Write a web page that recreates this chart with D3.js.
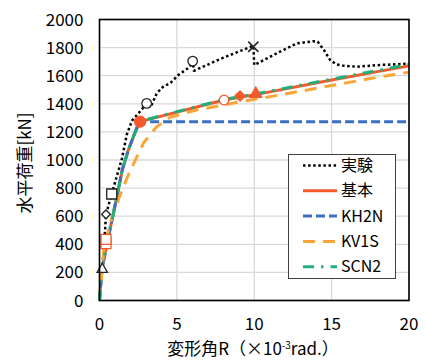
<!DOCTYPE html>
<html>
<head>
<meta charset="utf-8">
<script src="https://cdn.jsdelivr.net/npm/d3@7"></script>
<style>
    body { margin: 0; background: #fff; }
</style>
</head>
<body>
<load-chart></load-chart>
<script>
// ---- data (R in 10^-3 rad, P in kN) ----
const xTicks = [0, 5, 10, 15, 20];
const yTicks = [0, 200, 400, 600, 800, 1000, 1200, 1400, 1600, 1800, 2000];

const legendNames = ['実験', '基本', 'KH2N', 'KV1S', 'SCN2'];

const expR = [0, 0.18, 0.36, 0.42, 0.79, 1.11, 1.45, 1.76, 2.1, 2.5, 2.8, 3.05, 3.3, 3.7, 4.1, 4.6, 5.1, 5.85, 6.02, 6.1, 8.0, 9.94, 10.0, 11.45, 12.75, 13.8, 14.1, 14.5, 14.9, 15.3, 15.7, 16.6, 18.1, 20];
const expP = [0, 222, 502, 613, 758, 881, 1010, 1180, 1280, 1330, 1370, 1403, 1375, 1475, 1520, 1550, 1605, 1664, 1704, 1635, 1728, 1813, 1676, 1759, 1830, 1845, 1842, 1783, 1712, 1681, 1672, 1664, 1676, 1686];

const baseR = [0, 0.15, 0.55, 1.05, 1.47, 1.86, 2.19, 2.62, 8.05, 10.16, 15, 20];
const baseP = [0, 220, 440, 700, 929, 1070, 1166, 1273, 1427, 1467, 1570, 1670];

const kh2nR = [0, 0.15, 0.55, 1.05, 1.47, 1.86, 2.19, 2.55, 20];
const kh2nP = [0, 220, 440, 700, 929, 1070, 1166, 1273, 1273];

const kv1sR = [0, 0.3, 0.79, 1.33, 1.86, 2.83, 3.7, 4.56, 6.28, 8.0, 9.5, 12, 15, 17.5, 20];
const kv1sP = [0, 390, 585, 751, 893, 1119, 1237, 1304, 1356, 1391, 1422, 1470, 1530, 1580, 1625];

const scn2R = [0, 0.15, 0.55, 1.05, 1.47, 1.86, 2.19, 2.62, 8.05, 10.16, 15, 20];
const scn2P = [0, 220, 440, 700, 929, 1070, 1166, 1276, 1431, 1472, 1575, 1680];

// event markers
const expMarkR = [0.18, 0.42, 0.79, 3.05, 6.02, 9.94];
const expMarkP = [222, 613, 758, 1403, 1704, 1806];
const expMarkType = ['triangle', 'diamond', 'square', 'circle', 'circle', 'x'];

const baseMarkR = [0.42, 0.42, 2.62, 8.05, 9.08, 10.1];
const baseMarkP = [405, 435, 1273, 1427, 1455, 1470];
const baseMarkType = ['square', 'square', 'dot', 'circle', 'fdiamond', 'ftriangle'];

class LoadChart extends HTMLElement {
    constructor() {
        super();

        this.width = 425;
        this.height = 361;
        this.marginTop = 19.5;
        this.marginRight = 16;
        this.marginBottom = 60.5;
        this.marginLeft = 99.5;

        this.font = '"Noto Sans CJK JP", "Noto Sans", sans-serif';

        this.svg = d3.select(this)
            .append('svg')
            .attr('width', this.width)
            .attr('height', this.height)
            .style('display', 'block')
            .style('font-family', this.font);

        this.styles = [
            { color: '#000000', width: 2.5, dash: '2.5,2.6' },
            { color: '#f25a2c', width: 3, dash: null },
            { color: '#3a6fc1', width: 3, dash: '9,4' },
            { color: '#fba536', width: 3, dash: '12,8' },
            { color: '#20b07c', width: 3, dash: '11,7,2.5,7' }
        ];
    }
    //----------------------------------------------------------------------------
    connectedCallback() {
        this.#scaling();
        this.#drawGrid();
        this.#drawLines();
        this.#drawMarkers();
        this.#drawAxis();
        this.#drawLegend();
    }
    //----------------------------------------------------------------------------
    #scaling() {
        this.xScale = d3.scaleLinear()
            .domain([0, 20])
            .range([this.marginLeft, this.width - this.marginRight]);

        this.yScale = d3.scaleLinear()
            .domain([0, 2000])
            .range([this.height - this.marginBottom, this.marginTop]);
    }
    //----------------------------------------------------------------------------
    #drawGrid() {
        const g = this.svg.append('g');

        g.selectAll('.hgrid')
            .data(yTicks)
            .join('line')
            .attr('x1', this.xScale(0))
            .attr('x2', this.xScale(20))
            .attr('y1', d => this.yScale(d))
            .attr('y2', d => this.yScale(d))
            .attr('stroke', '#d9d9d9')
            .attr('stroke-width', 1.3);

        g.selectAll('.vgrid')
            .data(xTicks)
            .join('line')
            .attr('y1', this.yScale(0))
            .attr('y2', this.yScale(2000))
            .attr('x1', d => this.xScale(d))
            .attr('x2', d => this.xScale(d))
            .attr('stroke', '#d9d9d9')
            .attr('stroke-width', 1.3);
    }
    //----------------------------------------------------------------------------
    #drawLines() {
        const line = d3.line()
            .x(d => this.xScale(d[0]))
            .y(d => this.yScale(d[1]));

        const series = [
            d3.zip(expR, expP),
            d3.zip(baseR, baseP),
            d3.zip(kh2nR, kh2nP),
            d3.zip(kv1sR, kv1sP),
            d3.zip(scn2R, scn2P)
        ];

        series.forEach((data, i) => {
            const s = this.styles[i];
            this.svg.append('path')
                .attr('d', line(data))
                .attr('fill', 'none')
                .attr('stroke', s.color)
                .attr('stroke-width', s.width)
                .attr('stroke-dasharray', s.dash)
                .attr('stroke-linejoin', 'round');
        });
    }
    //----------------------------------------------------------------------------
    #marker(g, type, x, y, color) {
        const sym = d3.symbol();
        let fill = '#fff';
        let rotate = 0;

        if (type === 'triangle') sym.type(d3.symbolTriangle).size(48);
        if (type === 'ftriangle') { sym.type(d3.symbolTriangle).size(60); fill = color; }
        if (type === 'diamond') { sym.type(d3.symbolSquare).size(38); rotate = 45; }
        if (type === 'fdiamond') { sym.type(d3.symbolSquare).size(52); rotate = 45; fill = color; }
        if (type === 'square') sym.type(d3.symbolSquare).size(100);
        if (type === 'circle') sym.type(d3.symbolCircle).size(72);
        if (type === 'dot') { sym.type(d3.symbolCircle).size(95); fill = color; }
        if (type === 'x') { sym.type(d3.symbolX).size(70); fill = 'none'; }

        g.append('path')
            .attr('d', sym())
            .attr('transform', `translate(${x},${y}) rotate(${rotate})`)
            .attr('fill', fill)
            .attr('stroke', color)
            .attr('stroke-width', type === 'x' ? 1.5 : 1.3);
    }
    //----------------------------------------------------------------------------
    #drawMarkers() {
        const g = this.svg.append('g');

        expMarkR.forEach((r, i) => {
            this.#marker(g, expMarkType[i], this.xScale(r), this.yScale(expMarkP[i]), '#222');
        });

        baseMarkR.forEach((r, i) => {
            this.#marker(g, baseMarkType[i], this.xScale(r), this.yScale(baseMarkP[i]), '#f25a2c');
        });
    }
    //----------------------------------------------------------------------------
    #drawAxis() {
        // frame
        this.svg.append('rect')
            .attr('x', this.xScale(0))
            .attr('y', this.yScale(2000))
            .attr('width', this.xScale(20) - this.xScale(0))
            .attr('height', this.yScale(0) - this.yScale(2000))
            .attr('fill', 'none')
            .attr('stroke', '#000')
            .attr('stroke-width', 1.6);

        // Y tick labels
        this.svg.append('g')
            .selectAll('text')
            .data(yTicks)
            .join('text')
            .attr('x', this.marginLeft - 16)
            .attr('y', d => this.yScale(d) + 6)
            .attr('text-anchor', 'end')
            .attr('font-size', 17)
            .text(d => d);

        // X tick labels
        this.svg.append('g')
            .selectAll('text')
            .data(xTicks)
            .join('text')
            .attr('x', d => this.xScale(d))
            .attr('y', 330)
            .attr('text-anchor', 'middle')
            .attr('font-size', 17)
            .text(d => d);

        // X axis title
        const xt = this.svg.append('text')
            .attr('x', 253)
            .attr('y', 355)
            .attr('text-anchor', 'middle')
            .attr('font-size', 17);
        xt.append('tspan').text('変形角R（×10');
        xt.append('tspan').attr('dy', -6).attr('font-size', 10).text('-3');
        xt.append('tspan').attr('dy', 6).text('rad.）');

        // Y axis title
        this.svg.append('text')
            .attr('transform', `translate(31, 163) rotate(-90)`)
            .attr('text-anchor', 'middle')
            .attr('font-size', 17)
            .text('水平荷重[kN]');
    }
    //----------------------------------------------------------------------------
    #drawLegend() {
        const g = this.svg.append('g');

        g.append('rect')
            .attr('x', 288.5)
            .attr('y', 154.5)
            .attr('width', 107)
            .attr('height', 124)
            .attr('fill', '#fff')
            .attr('stroke', '#404040')
            .attr('stroke-width', 1);

        legendNames.forEach((name, i) => {
            const y = 165.5 + i * 25.3;
            const s = this.styles[i];

            g.append('line')
                .attr('x1', 303)
                .attr('x2', 337)
                .attr('y1', y)
                .attr('y2', y)
                .attr('stroke', s.color)
                .attr('stroke-width', s.width)
                .attr('stroke-dasharray', s.dash);

            g.append('text')
                .attr('x', 341)
                .attr('y', y + 5.5)
                .attr('font-size', 16)
                .text(name);
        });
    }
    //----------------------------------------------------------------------------
    static define(tag = 'load-chart') {
        customElements.define(tag, this);
    }
}

LoadChart.define();
</script>
</body>
</html>
